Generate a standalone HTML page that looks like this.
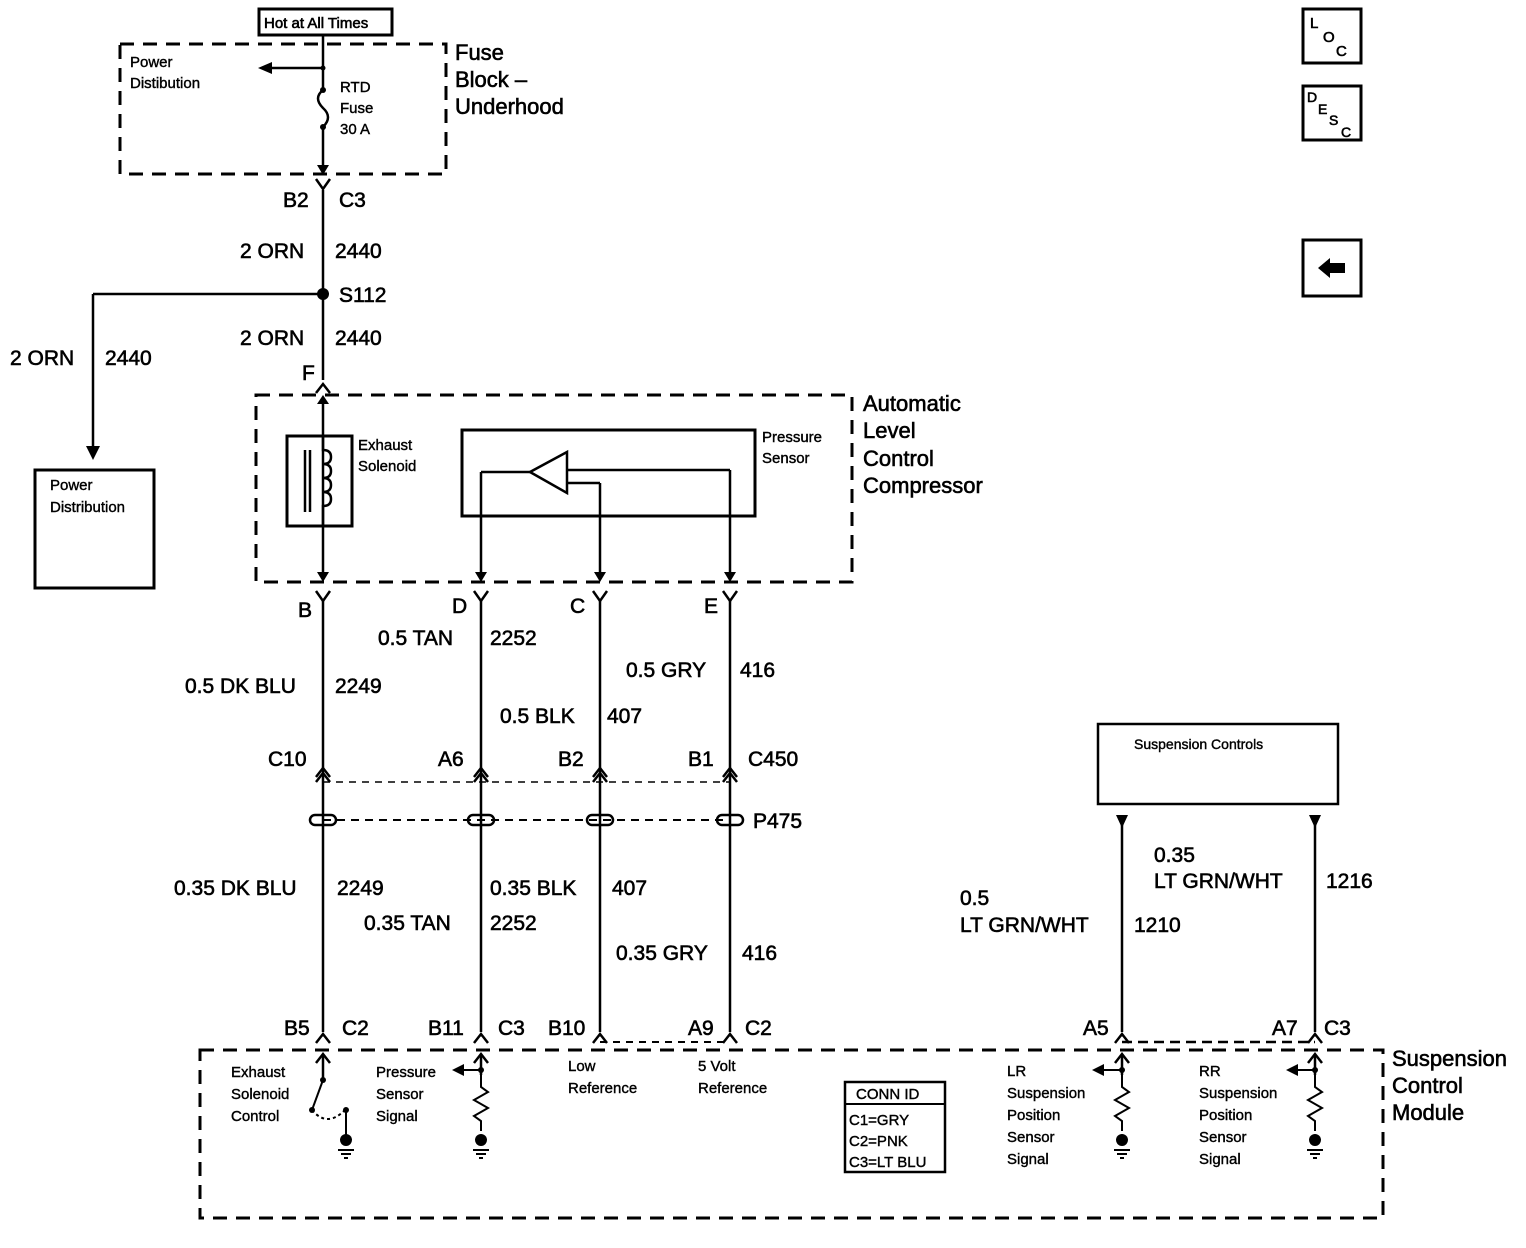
<!DOCTYPE html>
<html><head><meta charset="utf-8"><style>
html,body{margin:0;padding:0;background:#fff}
svg{display:block}
text{font-family:"Liberation Sans",sans-serif;fill:#000;stroke:#000;stroke-width:0.6}
.b{font-size:21px}
.m{font-size:22px}
.s{font-size:15px;stroke-width:0.4}
</style></head><body>
<svg width="1526" height="1248" viewBox="0 0 1526 1248" xmlns="http://www.w3.org/2000/svg">
<defs></defs>
<g fill="none" stroke="#000">
<rect x="120" y="44" width="326" height="130" stroke-width="3" stroke-dasharray="14,9"/>
<rect x="256" y="395" width="596" height="187" stroke-width="3" stroke-dasharray="14,9"/>
<rect x="200" y="1050" width="1183" height="168" stroke-width="3" stroke-dasharray="14,9"/>
<rect x="259" y="9" width="133" height="26" stroke-width="3"/>
<rect x="35" y="470" width="119" height="118" stroke-width="3"/>
<rect x="287" y="436" width="65" height="90" stroke-width="3"/>
<rect x="462" y="430" width="293" height="86" stroke-width="3"/>
<rect x="1098" y="724" width="240" height="80" stroke-width="2.5"/>
<rect x="845" y="1082" width="100" height="90" stroke-width="2.5"/>
<line x1="845" y1="1104" x2="945" y2="1104" stroke-width="2"/>
<rect x="1303" y="9" width="58" height="54" stroke-width="3"/>
<rect x="1303" y="86" width="58" height="54" stroke-width="3"/>
<rect x="1303" y="240" width="58" height="56" stroke-width="3"/>

<g stroke-width="2.5">
<line x1="323" y1="35" x2="323" y2="90"/>
<path d="M323 90 q-10 8 0 18 q10 9 0 19"/>
<line x1="323" y1="127" x2="323" y2="168"/>
<line x1="323" y1="68" x2="270" y2="68"/>
<line x1="323" y1="190" x2="323" y2="380"/>
<line x1="323" y1="294" x2="93" y2="294"/>
<line x1="93" y1="294" x2="93" y2="448"/>
<line x1="323" y1="398" x2="323" y2="575"/>
<line x1="323" y1="600" x2="323" y2="1032"/>
<line x1="481" y1="472" x2="481" y2="575"/>
<line x1="481" y1="472" x2="530" y2="472"/>
<line x1="567" y1="470" x2="730" y2="470"/>
<line x1="730" y1="470" x2="730" y2="575"/>
<line x1="567" y1="483" x2="600" y2="483"/>
<line x1="600" y1="483" x2="600" y2="575"/>
<polygon points="530,472 567,452 567,493"/>
<line x1="481" y1="600" x2="481" y2="1032"/>
<line x1="600" y1="600" x2="600" y2="1032"/>
<line x1="730" y1="600" x2="730" y2="1032"/>
<line x1="1122" y1="815" x2="1122" y2="1032"/>
<line x1="1315" y1="815" x2="1315" y2="1032"/>
<path d="M323 436 v14 q8 0 8 7 q0 7 -8 7 q8 0 8 7 q0 7 -8 7 q8 0 8 7 q0 7 -8 7 q8 0 8 7 q0 7 -8 7 v20"/>
<line x1="305" y1="450" x2="305" y2="512"/>
<line x1="310" y1="450" x2="310" y2="512"/>
</g>
<g stroke-width="2.5">
<path d="M316 179 l7 10 l7 -10"/>
<path d="M474 591 l7 10 l7 -10 M593 591 l7 10 l7 -10 M723 591 l7 10 l7 -10 M316 591 l7 10 l7 -10"/>
<path d="M316 777 l7 -9 l7 9 M474 777 l7 -9 l7 9 M593 777 l7 -9 l7 9 M723 777 l7 -9 l7 9"/>
<path d="M316 782 l7 -9 l7 9 M474 782 l7 -9 l7 9 M593 782 l7 -9 l7 9 M723 782 l7 -9 l7 9"/>
<path d="M316 1043 l7 -9 l7 9 M474 1043 l7 -9 l7 9 M593 1043 l7 -9 l7 9 M723 1043 l7 -9 l7 9 M1115 1043 l7 -9 l7 9 M1308 1043 l7 -9 l7 9"/>
<path d="M316 393 l7 -9 l7 9"/>
<path d="M316 1063 l7 -9 l7 9 M474 1063 l7 -9 l7 9 M1115 1063 l7 -9 l7 9 M1308 1063 l7 -9 l7 9"/>
<line x1="323" y1="1055" x2="323" y2="1080"/>
<line x1="481" y1="1055" x2="481" y2="1075"/>
<line x1="1122" y1="1055" x2="1122" y2="1075"/>
<line x1="1315" y1="1055" x2="1315" y2="1075"/>
</g>
<line x1="323" y1="782" x2="730" y2="782" stroke-width="1.5" stroke-dasharray="7,6"/>
<line x1="323" y1="820" x2="730" y2="820" stroke-width="2" stroke-dasharray="8,6"/>
<line x1="600" y1="1042" x2="730" y2="1042" stroke-width="2" stroke-dasharray="7,6"/>
<line x1="1122" y1="1042" x2="1315" y2="1042" stroke-width="2.5" stroke-dasharray="10,6"/>
<g stroke-width="2.5">
<rect x="310" y="815" width="26" height="10" rx="5"/>
<rect x="468" y="815" width="26" height="10" rx="5"/>
<rect x="587" y="815" width="26" height="10" rx="5"/>
<rect x="717" y="815" width="26" height="10" rx="5"/>
</g>
<g stroke-width="2">
<path d="M481 1075 v12 l7 5 l-14 8 l14 8 l-14 8 l7 5 v10"/>
<path d="M1122 1075 v12 l7 5 l-14 8 l14 8 l-14 8 l7 5 v10"/>
<path d="M1315 1075 v12 l7 5 l-14 8 l14 8 l-14 8 l7 5 v10"/>
<line x1="481" y1="1070" x2="460" y2="1070"/>
<line x1="1122" y1="1070" x2="1100" y2="1070"/>
<line x1="1315" y1="1070" x2="1295" y2="1070"/>
<line x1="323" y1="1080" x2="312" y2="1110"/>
<path d="M312 1110 q15 18 33 0" stroke-dasharray="3,3"/>
<line x1="346" y1="1110" x2="346" y2="1135"/>
<path d="M338 1150 h16 M341 1154 h10 M344 1158 h4 M473 1150 h16 M476 1154 h10 M479 1158 h4 M1114 1150 h16 M1117 1154 h10 M1120 1158 h4 M1307 1150 h16 M1310 1154 h10 M1313 1158 h4"/>
</g>
</g>
<g fill="#000">
<polygon points="258,68 272,62 272,74"/>
<polygon points="317,165 329,165 323,175"/>
<polygon points="86,446 100,446 93,460"/>
<polygon points="475,572 487,572 481,582"/><polygon points="594,572 606,572 600,582"/><polygon points="724,572 736,572 730,582"/><polygon points="317,572 329,572 323,582"/>
<polygon points="317,404 329,404 323,395"/>
<polygon points="1116,815 1128,815 1122,828"/><polygon points="1309,815 1321,815 1315,828"/>
<polygon points="452,1070 464,1064 464,1076"/><polygon points="1092,1070 1104,1064 1104,1076"/><polygon points="1286,1070 1298,1064 1298,1076"/>
<circle cx="323" cy="294" r="6"/>
<circle cx="323" cy="68" r="2.5"/><circle cx="323" cy="90" r="3"/><circle cx="323" cy="127" r="3"/>
<circle cx="481" cy="1070" r="3"/><circle cx="1122" cy="1070" r="3"/><circle cx="1315" cy="1070" r="3"/>
<circle cx="312" cy="1110" r="3"/><circle cx="346" cy="1110" r="3"/><circle cx="323" cy="1080" r="3"/>
<circle cx="346" cy="1140" r="6"/><circle cx="481" cy="1140" r="6"/><circle cx="1122" cy="1140" r="6"/><circle cx="1315" cy="1140" r="6"/>
<polygon points="1318,268 1330,258 1330,263 1345,263 1345,273 1330,273 1330,278"/>
</g>
<text x="264" y="28" font-size="15">Hot at All Times</text>
<text x="130" y="67" class="s">Power</text><text x="130" y="88" class="s">Distibution</text>
<text x="340" y="92" class="s">RTD</text><text x="340" y="113" class="s">Fuse</text><text x="340" y="134" class="s">30 A</text>
<text x="455" y="60" class="m">Fuse</text><text x="455" y="87" class="m">Block –</text><text x="455" y="114" class="m">Underhood</text>
<text x="283" y="207" class="b">B2</text><text x="339" y="207" class="b">C3</text>
<text x="240" y="258" class="b">2 ORN</text><text x="335" y="258" class="b">2440</text>
<text x="339" y="302" class="b">S112</text>
<text x="240" y="345" class="b">2 ORN</text><text x="335" y="345" class="b">2440</text>
<text x="10" y="365" class="b">2 ORN</text><text x="105" y="365" class="b">2440</text>
<text x="302" y="380" class="b">F</text>
<text x="50" y="490" class="s">Power</text><text x="50" y="512" class="s">Distribution</text>
<text x="358" y="450" class="s">Exhaust</text><text x="358" y="471" class="s">Solenoid</text>
<text x="762" y="442" class="s">Pressure</text><text x="762" y="463" class="s">Sensor</text>
<text x="863" y="411" class="m">Automatic</text><text x="863" y="438" class="m">Level</text><text x="863" y="466" class="m">Control</text><text x="863" y="493" class="m">Compressor</text>
<text x="298" y="617" class="b">B</text><text x="452" y="613" class="b">D</text><text x="570" y="613" class="b">C</text><text x="704" y="613" class="b">E</text>
<text x="378" y="645" class="b">0.5 TAN</text><text x="490" y="645" class="b">2252</text>
<text x="626" y="677" class="b">0.5 GRY</text><text x="740" y="677" class="b">416</text>
<text x="185" y="693" class="b">0.5 DK BLU</text><text x="335" y="693" class="b">2249</text>
<text x="500" y="723" class="b">0.5 BLK</text><text x="607" y="723" class="b">407</text>
<text x="268" y="766" class="b">C10</text><text x="438" y="766" class="b">A6</text><text x="558" y="766" class="b">B2</text><text x="688" y="766" class="b">B1</text><text x="748" y="766" class="b">C450</text>
<text x="753" y="828" class="b">P475</text>
<text x="174" y="895" class="b">0.35 DK BLU</text><text x="337" y="895" class="b">2249</text>
<text x="490" y="895" class="b">0.35 BLK</text><text x="612" y="895" class="b">407</text>
<text x="364" y="930" class="b">0.35 TAN</text><text x="490" y="930" class="b">2252</text>
<text x="616" y="960" class="b">0.35 GRY</text><text x="742" y="960" class="b">416</text>
<text x="1134" y="749" font-size="14" style="stroke-width:0.4">Suspension Controls</text>
<text x="1154" y="862" class="b">0.35</text><text x="1154" y="888" class="b">LT GRN/WHT</text><text x="1326" y="888" class="b">1216</text>
<text x="960" y="905" class="b">0.5</text><text x="960" y="932" class="b">LT GRN/WHT</text><text x="1134" y="932" class="b">1210</text>
<text x="284" y="1035" class="b">B5</text><text x="342" y="1035" class="b">C2</text>
<text x="428" y="1035" class="b">B11</text><text x="498" y="1035" class="b">C3</text><text x="548" y="1035" class="b">B10</text>
<text x="688" y="1035" class="b">A9</text><text x="745" y="1035" class="b">C2</text>
<text x="1083" y="1035" class="b">A5</text><text x="1272" y="1035" class="b">A7</text><text x="1324" y="1035" class="b">C3</text>
<text x="1392" y="1066" class="m">Suspension</text><text x="1392" y="1093" class="m">Control</text><text x="1392" y="1120" class="m">Module</text>
<text x="231" y="1077" class="s">Exhaust</text><text x="231" y="1099" class="s">Solenoid</text><text x="231" y="1121" class="s">Control</text>
<text x="376" y="1077" class="s">Pressure</text><text x="376" y="1099" class="s">Sensor</text><text x="376" y="1121" class="s">Signal</text>
<text x="568" y="1071" class="s">Low</text><text x="568" y="1093" class="s">Reference</text>
<text x="698" y="1071" class="s">5 Volt</text><text x="698" y="1093" class="s">Reference</text>
<text x="856" y="1099" class="s">CONN ID</text>
<text x="849" y="1125" class="s">C1=GRY</text><text x="849" y="1146" class="s">C2=PNK</text><text x="849" y="1167" class="s">C3=LT BLU</text>
<text x="1007" y="1076" class="s">LR</text><text x="1007" y="1098" class="s">Suspension</text><text x="1007" y="1120" class="s">Position</text><text x="1007" y="1142" class="s">Sensor</text><text x="1007" y="1164" class="s">Signal</text>
<text x="1199" y="1076" class="s">RR</text><text x="1199" y="1098" class="s">Suspension</text><text x="1199" y="1120" class="s">Position</text><text x="1199" y="1142" class="s">Sensor</text><text x="1199" y="1164" class="s">Signal</text>
<text x="1310" y="28" font-size="15">L</text><text x="1323" y="42" font-size="15">O</text><text x="1336" y="56" font-size="15">C</text>
<text x="1307" y="102" font-size="14">D</text><text x="1318" y="114" font-size="14">E</text><text x="1329" y="125" font-size="14">S</text><text x="1341" y="137" font-size="14">C</text>
</svg>
</body></html>
